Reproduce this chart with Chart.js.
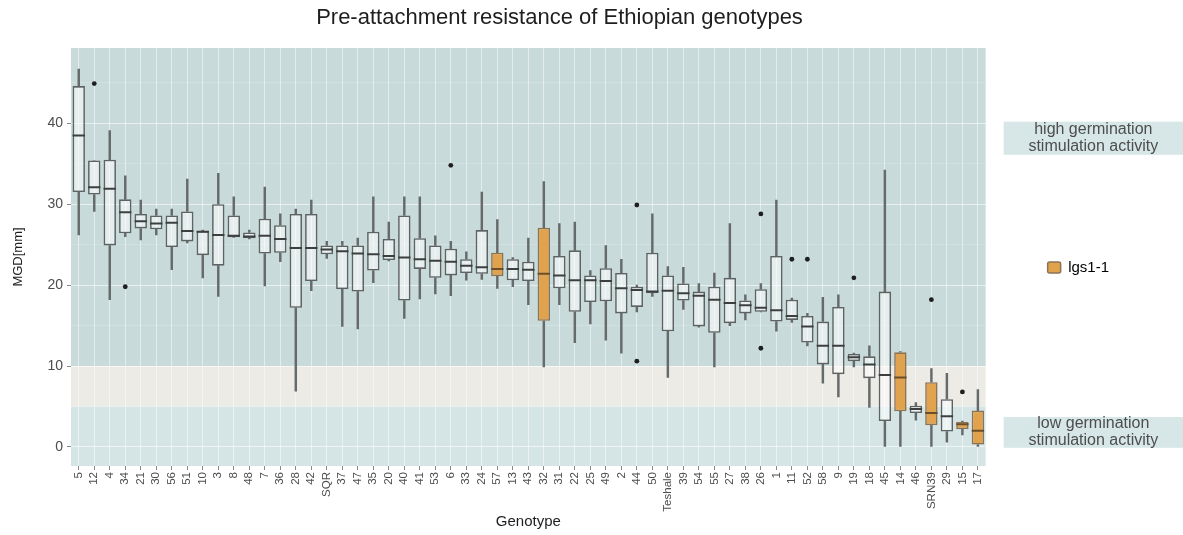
<!DOCTYPE html>
<html>
<head>
<meta charset="utf-8">
<script src="https://cdn.jsdelivr.net/npm/chart.js@4.4.1/dist/chart.umd.min.js"></script>
<style>
  html, body { margin: 0; padding: 0; background: #ffffff; }
  canvas { display: block; }
</style>
</head>
<body>
<canvas id="c" width="1183" height="535"></canvas>
<script>
// ---------------- data ----------------
const genotypes = ['5','12','4','34','21','30','56','51','10','3','8','48','7','36','28','42','SQR','37','47','35',
  '20','40','41','53','6','33','24','57','13','43','32','31','22','25','49','2','44','50','Teshale','39',
  '54','55','27','38','26','1','11','52','58','9','19','18','45','14','46','SRN39','29','15','17'];

const whiskerLow = [26.2,29.1,18.2,26.0,25.6,26.2,21.9,25.2,20.9,18.6,25.9,25.7,19.9,22.9,6.9,19.3,23.3,14.9,14.6,20.3,
  23.0,15.9,18.3,18.9,18.7,20.6,20.7,19.6,19.8,17.6,9.9,17.6,12.9,15.2,13.2,11.6,16.7,18.6,8.6,17.0,
  14.8,9.9,15.0,15.7,16.7,14.3,15.4,12.5,7.9,6.2,9.9,4.9,0.0,0.0,3.3,0.0,0.6,1.5,0.0];

const q1 = [31.5,31.2,24.9,26.4,27.0,26.9,24.7,25.4,23.7,22.4,25.9,25.8,23.9,24.0,17.2,20.5,23.8,19.5,19.2,21.8,
  23.1,18.1,22.0,20.9,21.2,21.5,21.4,21.1,20.6,20.5,15.6,19.6,16.7,17.9,18.0,16.5,17.3,19.0,14.3,18.1,
  14.9,14.1,15.3,16.5,16.7,15.5,15.7,12.9,10.2,9.0,10.6,8.5,3.2,4.4,4.2,2.7,1.9,2.2,0.3];

const median = [38.5,32.1,31.9,29.0,27.9,27.6,27.7,26.7,26.6,26.2,26.1,26.0,26.1,25.7,24.6,24.6,24.4,24.2,23.9,23.8,
  23.6,23.4,23.2,23.0,22.9,22.4,22.2,22.0,22.0,21.9,21.4,21.2,20.6,20.6,20.5,19.6,19.4,19.2,19.3,19.0,
  18.7,18.2,17.8,17.5,17.2,16.9,16.2,14.9,12.5,12.5,11.1,10.2,8.9,8.6,4.7,4.2,3.8,2.8,2.0];

const q3 = [44.6,35.4,35.5,30.6,28.8,28.6,28.6,29.1,26.7,30.0,28.6,26.5,28.2,27.4,28.8,28.8,24.9,24.9,24.9,26.6,
  25.7,28.6,25.8,24.9,24.5,23.2,26.8,24.0,23.2,22.9,27.1,23.6,24.3,21.2,22.1,21.5,19.8,24.0,21.2,20.2,
  19.2,19.8,20.9,18.1,19.5,23.6,18.2,16.2,15.5,17.3,11.5,11.2,19.2,11.7,5.1,8.0,5.9,3.1,4.5];

const whiskerHigh = [46.7,35.4,39.1,33.5,30.5,29.4,29.4,33.1,26.8,33.8,30.9,26.8,32.1,28.8,29.4,30.5,25.4,25.4,25.8,30.9,
  27.8,30.9,30.9,26.1,25.4,24.1,31.5,28.1,23.4,25.8,32.8,27.6,27.8,21.8,24.9,23.2,20.0,28.8,22.3,22.2,
  20.2,21.5,27.6,18.8,20.2,30.5,18.4,16.5,18.5,18.8,11.6,12.5,34.2,11.8,5.5,9.7,9.1,3.2,7.1];

const outlierGenotype = ['12','34','6','44','44','26','26','11','52','19','SRN39','15'];
const outlierValue    = [44.9,19.8,34.8,29.9,10.6,28.8,12.2,23.2,23.2,20.9,18.2,6.8];

const lgsGenotypes = ['57','32','14','SRN39','15','17'];
const lgsLabel = 'lgs1-1';

const yTickValues = [0, 10, 20, 30, 40];
const bandLimits = [5, 10];   // low | intermediate | high activity zones (MGD mm)
const noteTexts = [['high germination', 'stimulation activity'], ['low germination', 'stimulation activity']];
const noteRanges = [[36.1, 40.2], [-0.1, 3.7]];

// ---------------- styling ----------------
const FONT = '"Liberation Sans", Arial, Helvetica, sans-serif';
Chart.defaults.font.family = FONT;

const ORANGE = '#e1a24d';
const ORANGE_EDGE = '#8b7355';
const isLgs = genotypes.map(g => lgsGenotypes.includes(g));
const boxFill = isLgs.map(b => b ? ORANGE : 'rgba(255,255,255,0.52)');
const boxEdge = isLgs.map(b => b ? ORANGE_EDGE : '#5e6262');
const medEdge = isLgs.map(b => b ? '#6b4f2c' : '#3d3f3f');

const bandsPlugin = {
  id: 'bands',
  beforeDraw(chart) {
    const {ctx, chartArea: a, scales: {y}} = chart;
    const y5 = y.getPixelForValue(bandLimits[0]);
    const y10 = y.getPixelForValue(bandLimits[1]);
    ctx.save();
    ctx.fillStyle = '#c8dbda';
    ctx.fillRect(a.left, a.top, a.right - a.left, y10 - a.top);
    ctx.fillStyle = '#ecebe6';
    ctx.fillRect(a.left, y10, a.right - a.left, y5 - y10);
    ctx.fillStyle = '#d5e5e6';
    ctx.fillRect(a.left, y5, a.right - a.left, a.bottom - y5);
    ctx.restore();
  }
};

const notesPlugin = {
  id: 'notes',
  afterDraw(chart) {
    const {ctx, chartArea: a, scales: {y}, width} = chart;
    ctx.save();
    noteTexts.forEach((lines, i) => {
      const top = y.getPixelForValue(noteRanges[i][1]);
      const bot = y.getPixelForValue(noteRanges[i][0]);
      const left = a.right + 18;
      ctx.fillStyle = '#d7e7e8';
      ctx.fillRect(left, top, width - left, bot - top);
      ctx.fillStyle = '#4d4d4d';
      ctx.font = '16px ' + FONT;
      ctx.textAlign = 'center';
      ctx.textBaseline = 'middle';
      const cx = (left + width) / 2;
      const mid = (top + bot) / 2;
      ctx.fillText(lines[0], cx, mid - 8.5);
      ctx.fillText(lines[1], cx, mid + 8.5);
    });
    ctx.restore();
  }
};

new Chart(document.getElementById('c'), {
  data: {
    labels: genotypes,
    datasets: [
      {
        type: 'line',
        label: 'median',
        data: median,
        showLine: false,
        pointStyle: 'line',
        pointRadius: 6.2,
        pointHoverRadius: 6.2,
        pointBorderWidth: 2,
        pointBorderColor: medEdge,
        order: 0
      },
      {
        type: 'line',
        label: 'outliers',
        data: outlierGenotype.map((g, i) => ({x: g, y: outlierValue[i]})),
        showLine: false,
        pointStyle: 'circle',
        pointRadius: 2.4,
        pointHoverRadius: 2.4,
        pointBorderWidth: 0,
        pointBackgroundColor: '#1f1f1f',
        order: 0
      },
      {
        type: 'bar',
        label: 'box',
        data: genotypes.map((g, i) => [q1[i], q3[i]]),
        backgroundColor: boxFill,
        borderColor: boxEdge,
        borderWidth: 1.6,
        borderSkipped: false,
        barPercentage: 0.8,
        categoryPercentage: 1,
        grouped: false,
        order: 1
      },
      {
        type: 'bar',
        label: 'upper whisker',
        data: genotypes.map((g, i) => [q3[i], whiskerHigh[i]]),
        backgroundColor: '#666a6a',
        borderWidth: 0,
        barThickness: 1.8,
        grouped: false,
        order: 2
      },
      {
        type: 'bar',
        label: 'lower whisker',
        data: genotypes.map((g, i) => [whiskerLow[i], q1[i]]),
        backgroundColor: '#666a6a',
        borderWidth: 0,
        barThickness: 1.8,
        grouped: false,
        order: 2
      }
    ]
  },
  options: {
    responsive: false,
    animation: false,
    devicePixelRatio: 1,
    layout: { padding: { left: 0, right: 64, top: 0, bottom: 0 } },
    plugins: {
      tooltip: { enabled: false },
      title: {
        display: true,
        text: 'Pre-attachment resistance of Ethiopian genotypes',
        color: '#1e1e1e',
        font: { size: 22, weight: 'normal', family: FONT },
        padding: { top: 5, bottom: 16.6 }
      },
      legend: {
        display: true,
        position: 'right',
        onClick: null,
        labels: {
          color: '#333333',
          font: { size: 15, family: FONT },
          boxWidth: 13,
          boxHeight: 11,
          padding: 62,
          useBorderRadius: true,
          borderRadius: 2,
          generateLabels: () => [{
            text: lgsLabel,
            fillStyle: ORANGE,
            strokeStyle: ORANGE_EDGE,
            lineWidth: 1.5,
            hidden: false,
            borderRadius: 2,
            datasetIndex: 2
          }]
        }
      }
    },
    scales: {
      x: {
        type: 'category',
        offset: true,
        border: { display: false },
        grid: {
          offset: false,
          color: 'rgba(255,255,255,0.5)',
          lineWidth: 1,
          drawTicks: true,
          tickLength: 4,
          tickColor: '#8a8a8a'
        },
        ticks: {
          autoSkip: false,
          maxRotation: 90,
          minRotation: 90,
          padding: 2,
          color: '#4d4d4d',
          font: { size: 11.5, family: FONT }
        },
        title: {
          display: true,
          text: 'Genotype',
          color: '#1e1e1e',
          font: { size: 15, family: FONT },
          padding: { top: 2, bottom: 4 }
        },
        afterFit(s) { s.height = 69; }
      },
      y: {
        type: 'linear',
        min: -2.35,
        max: 49.3,
        border: { display: false },
        grid: {
          color: c => (c.tick && c.tick.value % 10 === 0) ? 'rgba(255,255,255,0.6)' : 'rgba(255,255,255,0.3)',
          lineWidth: c => (c.tick && c.tick.value % 10 === 0) ? 1 : 0.6,
          tickLength: 4,
          tickColor: c => (c.tick && c.tick.value % 10 === 0) ? '#8a8a8a' : 'rgba(0,0,0,0)'
        },
        ticks: {
          stepSize: 5,
          includeBounds: false,
          padding: 4,
          color: '#4d4d4d',
          font: { size: 14, family: FONT },
          callback: v => yTickValues.includes(v) ? String(v) : ''
        },
        title: {
          display: true,
          text: 'MGD[mm]',
          color: '#1e1e1e',
          font: { size: 13, family: FONT },
          padding: { top: 11, bottom: 0 }
        },
        afterFit(s) { s.width = 71; }
      }
    }
  },
  plugins: [bandsPlugin, notesPlugin]
});
</script>
</body>
</html>
